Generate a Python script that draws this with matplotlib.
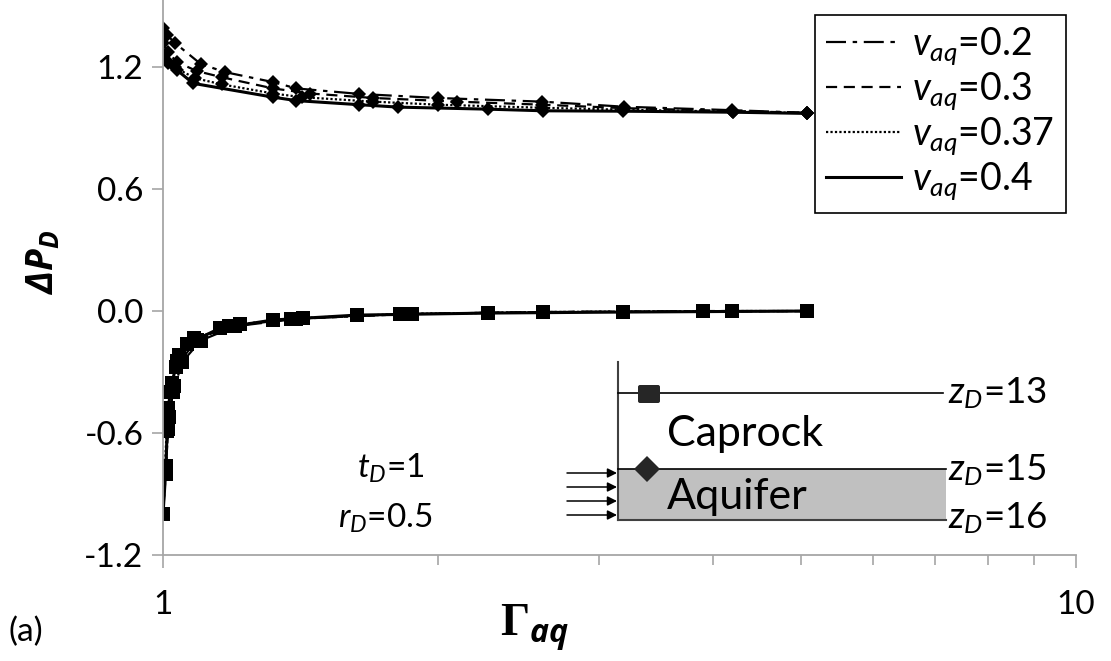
import matplotlib
matplotlib.use("Agg")
import matplotlib.pyplot as plt
from matplotlib.lines import Line2D
from matplotlib.patches import Rectangle, FancyBboxPatch
from matplotlib.ticker import FixedLocator, FixedFormatter, NullFormatter

plt.rcParams['font.family'] = ['Lato', 'DejaVu Sans']
plt.rcParams['mathtext.fontset'] = 'custom'
plt.rcParams['mathtext.rm'] = 'Lato'
plt.rcParams['mathtext.it'] = 'Lato:italic'
plt.rcParams['mathtext.sf'] = 'Open Sans:bold:italic'
plt.rcParams['axes.unicode_minus'] = False

# ---------------- data ----------------
labels = ['0.2', '0.3', '0.37', '0.4']
styles = [(0, (9, 3, 2, 3)), (0, (5, 3)), (0, (1, 1)), '-']
widths = [1.6, 1.6, 1.6, 2.2]

# upper curves (diamonds, aquifer top)
top_x_02 = [1.000, 1.010, 1.031, 1.100, 1.170, 1.320, 1.400, 1.640, 2.000, 2.600, 3.200, 4.200, 5.080]
top_y_02 = [1.390, 1.358, 1.318, 1.215, 1.175, 1.126, 1.095, 1.068, 1.048, 1.030, 1.005, 0.988, 0.975]
top_x_03 = [1.000, 1.012, 1.035, 1.090, 1.160, 1.320, 1.450, 1.700, 2.100, 2.600, 3.200, 4.200, 5.080]
top_y_03 = [1.320, 1.275, 1.225, 1.180, 1.150, 1.095, 1.070, 1.048, 1.030, 1.015, 0.998, 0.984, 0.975]
top_x_037 = [1.000, 1.010, 1.030, 1.085, 1.160, 1.320, 1.420, 1.700, 2.000, 2.600, 3.190, 4.210, 5.080]
top_y_037 = [1.262, 1.232, 1.198, 1.145, 1.115, 1.070, 1.052, 1.030, 1.015, 1.000, 0.990, 0.981, 0.974]
top_x_04 = [1.000, 1.012, 1.036, 1.079, 1.320, 1.400, 1.640, 1.810, 2.270, 2.610, 3.190, 4.210, 5.080]
top_y_04 = [1.244, 1.220, 1.185, 1.120, 1.052, 1.035, 1.015, 1.003, 0.993, 0.985, 0.983, 0.978, 0.972]

# lower curves (squares, caprock)
bot_x_02 = [1.000, 1.0076, 1.0127, 1.025, 1.050, 1.100, 1.200, 1.400, 1.873, 2.610, 3.900, 5.080]
bot_y_02 = [-1.000, -0.780, -0.580, -0.400, -0.250, -0.145, -0.075, -0.038, -0.014, -0.005, 0.000, 0.000]
bot_x_03 = [1.000, 1.0076, 1.015, 1.028, 1.045, 1.090, 1.180, 1.380, 1.818, 2.610, 3.190, 5.080]
bot_y_03 = [-1.000, -0.760, -0.520, -0.370, -0.245, -0.140, -0.075, -0.040, -0.015, -0.005, -0.003, 0.000]
bot_x_037 = [1.000, 1.009, 1.018, 1.033, 1.041, 1.081, 1.214, 1.423, 1.818, 2.610, 4.200, 5.080]
bot_y_037 = [-1.000, -0.590, -0.400, -0.275, -0.215, -0.133, -0.064, -0.034, -0.015, -0.005, 0.000, 0.000]
bot_x_04 = [1.000, 1.0065, 1.0127, 1.023, 1.036, 1.062, 1.155, 1.320, 1.630, 2.270, 3.190, 5.080]
bot_y_04 = [-1.000, -0.800, -0.478, -0.355, -0.246, -0.163, -0.084, -0.044, -0.020, -0.010, -0.005, 0.000]

top_x = [top_x_02, top_x_03, top_x_037, top_x_04]
top_y = [top_y_02, top_y_03, top_y_037, top_y_04]
bot_x = [bot_x_02, bot_x_03, bot_x_037, bot_x_04]
bot_y = [bot_y_02, bot_y_03, bot_y_037, bot_y_04]

y_ticks = [-1.2, -0.6, 0.0, 0.6, 1.2]
y_ticklabels = ['-1.2', '-0.6', '0.0', '0.6', '1.2']
x_major = [1, 10]
x_major_labels = ['1', '10']

# ---------------- figure ----------------
W, H = 1111, 661
fig = plt.figure(figsize=(W / 100, H / 100), dpi=100)
ax = fig.add_axes([163 / W, 1 - 555 / H, (1076 - 163) / W, 555 / H - 0.0])

for xs, ys, ls, lw in zip(top_x, top_y, styles, widths):
    ax.plot(xs, ys, ls=ls, lw=lw, color='black', marker='D', ms=7.5,
            markeredgewidth=0, markerfacecolor='black')
for xs, ys, ls, lw in zip(bot_x, bot_y, styles, widths):
    ax.plot(xs, ys, ls=ls, lw=lw, color='black', marker='s', ms=9.5,
            markeredgewidth=0, markerfacecolor='black')

ax.set_xscale('log')
ax.set_xlim(1, 10)
ax.set_ylim(-1.2, 1.2 + 555 / 203.3 - 2.4)

ax.xaxis.set_major_locator(FixedLocator(x_major))
ax.xaxis.set_major_formatter(FixedFormatter(x_major_labels))
ax.xaxis.set_minor_locator(FixedLocator([2, 3, 4, 5, 6, 7, 8, 9]))
ax.xaxis.set_minor_formatter(NullFormatter())
ax.yaxis.set_major_locator(FixedLocator(y_ticks))
ax.yaxis.set_major_formatter(FixedFormatter(y_ticklabels))

gray = '#a6a6a6'
for s in ['top', 'right']:
    ax.spines[s].set_visible(False)
for s in ['left', 'bottom']:
    ax.spines[s].set_color(gray)
    ax.spines[s].set_linewidth(1.3)
ax.tick_params(axis='x', which='major', direction='out', length=9, width=1.2,
               color=gray, labelsize=24, pad=16)
ax.tick_params(axis='x', which='minor', direction='out', length=7, width=1.2, color=gray)
ax.tick_params(axis='y', which='major', direction='out', length=8, width=1.2,
               color=gray, labelsize=24, pad=6)
ax.patch.set_alpha(0)

handles = [Line2D([], [], color='black', ls=ls, lw=lw) for ls, lw in zip(styles, widths)]
leg_labels = [r'$\mathit{v}_{\mathit{aq}}$=' + l for l in labels]
leg = ax.legend(handles, leg_labels, loc='upper left',
                bbox_to_anchor=(815 / W, 1 - 15 / H), bbox_transform=fig.transFigure,
                borderaxespad=0, fontsize=27, frameon=True, fancybox=False,
                edgecolor='black', framealpha=1, handlelength=2.0,
                handletextpad=0.3, labelspacing=0.1, borderpad=0.3)
leg.get_frame().set_linewidth(1.2)

# ---------------- overlay (annotations, inset sketch) ----------------
ov = fig.add_axes([0, 0, 1, 1], zorder=5)
ov.set_xlim(0, W)
ov.set_ylim(H, 0)
ov.axis('off')

ov.text(535, 628, r'Γ$_{\mathsf{aq}}$', family='Liberation Serif', weight='bold',
        fontsize=33, ha='center', va='center')
ov.text(43, 262, r'ΔP$_{\mathsf{D}}$', family='Open Sans', weight='bold', style='italic',
        fontsize=27, ha='center', va='center', rotation=90)
ov.text(8, 632, '(a)', fontsize=24, ha='left', va='center')

ov.text(391, 468, r'$\mathit{t}_{\mathit{D}}$=1', fontsize=24, ha='center', va='center')
ov.text(385, 518, r'$\mathit{r}_{\mathit{D}}$=0.5', fontsize=24, ha='center', va='center')

# sketch
ov.add_patch(Rectangle((618, 469), 328, 51, facecolor='#c0c0c0', edgecolor='none'))
ov.plot([618, 946], [520, 520], color='#404040', lw=1.5)
ov.plot([618, 618], [362, 520], color='#404040', lw=1.5)
ov.plot([618, 943], [393, 393], color='black', lw=1.2)
ov.plot([618, 946], [469, 469], color='black', lw=1.2)
ov.add_patch(FancyBboxPatch((638, 385), 22, 18, boxstyle='round,pad=0,rounding_size=2',
                            facecolor='#262626', edgecolor='none', zorder=3))
ov.plot([647], [469], marker='D', ms=13, color='#262626', markeredgewidth=0, zorder=3)
for yy in [473, 487, 501, 515]:
    ov.annotate('', xy=(617, yy), xytext=(567, yy),
                arrowprops=dict(arrowstyle='-|>', color='black', lw=1.1,
                                mutation_scale=14, shrinkA=0, shrinkB=0))
ov.text(667, 434, 'Caprock', fontsize=31, ha='left', va='center')
ov.text(667, 497, 'Aquifer', fontsize=31, ha='left', va='center')
ov.text(948, 393, r'$\mathit{z}_{\mathit{D}}$=13', fontsize=26.5, ha='left', va='center')
ov.text(948, 470, r'$\mathit{z}_{\mathit{D}}$=15', fontsize=26.5, ha='left', va='center')
ov.text(948, 518, r'$\mathit{z}_{\mathit{D}}$=16', fontsize=26.5, ha='left', va='center')

fig.savefig('out.png', dpi=100)
